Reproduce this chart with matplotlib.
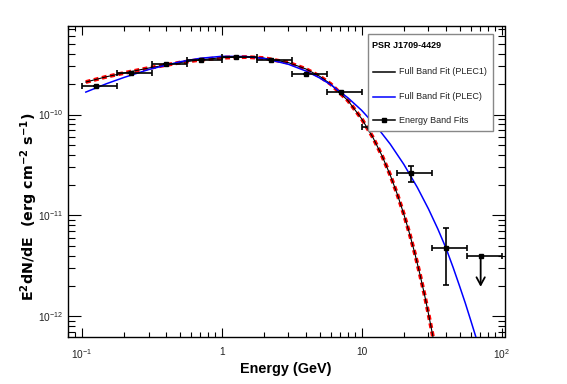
import numpy as np
import matplotlib
matplotlib.use('Agg')
import matplotlib.pyplot as plt
from matplotlib.lines import Line2D
from matplotlib.patches import Rectangle
from matplotlib.ticker import LogLocator, FixedLocator, FixedFormatter, NullFormatter

plt.rcParams['font.family'] = ['Liberation Sans', 'DejaVu Sans']
plt.rcParams['mathtext.fontset'] = 'custom'
plt.rcParams['mathtext.rm'] = 'Liberation Sans'
plt.rcParams['mathtext.bf'] = 'DejaVu Sans:bold'
plt.rcParams['mathtext.it'] = 'Liberation Sans:italic'
plt.rcParams['lines.scale_dashes'] = False

# ---------------- data ----------------
# Energy band fits
band_E = [0.126, 0.224, 0.398, 0.708, 1.26, 2.24, 3.98, 7.08, 12.6, 22.4, 39.8]
band_lo = [0.100, 0.178, 0.316, 0.562, 1.00, 1.78, 3.16, 5.62, 10.0, 17.8, 31.6]
band_hi = [0.178, 0.316, 0.562, 1.00, 1.78, 3.16, 5.62, 10.0, 17.8, 31.6, 56.2]
band_flux = [1.93e-10, 2.60e-10, 3.17e-10, 3.50e-10, 3.69e-10, 3.47e-10,
             2.50e-10, 1.68e-10, 7.46e-11, 2.61e-11, 4.72e-12]
band_flux_lo = [1.93e-10, 2.60e-10, 3.17e-10, 3.50e-10, 3.69e-10, 3.47e-10,
                2.50e-10, 1.68e-10, 7.46e-11, 2.15e-11, 2.04e-12]
band_flux_hi = [1.93e-10, 2.60e-10, 3.17e-10, 3.50e-10, 3.69e-10, 3.47e-10,
                2.50e-10, 1.68e-10, 7.46e-11, 3.08e-11, 7.43e-12]

# Upper limit
ul_E = [70.8]
ul_lo = [56.2]
ul_hi = [100.0]
ul_flux = [3.98e-12]
ul_tip = [1.96e-12]

# Full band fit, PLEC1 (black, with red dashed overlay)
plec1_E = [0.107, 0.15, 0.2, 0.3, 0.5, 0.7, 1.0, 1.5, 2.0, 3.0, 4.0, 5.0, 6.0, 8.0,
           10.0, 12.0, 14.0, 16.0, 18.0, 20.0, 22.0, 24.0, 26.0, 28.0, 30.0, 32.0, 34.0]
plec1_flux = [2.10e-10, 2.37e-10, 2.58e-10, 2.89e-10, 3.27e-10, 3.49e-10, 3.66e-10,
              3.72e-10, 3.63e-10, 3.27e-10, 2.83e-10, 2.40e-10, 2.01e-10, 1.37e-10,
              9.08e-11, 5.97e-11, 3.88e-11, 2.51e-11, 1.61e-11, 1.03e-11, 6.58e-12,
              4.18e-12, 2.65e-12, 1.68e-12, 1.06e-12, 6.71e-13, 4.23e-13]

# Full band fit, PLEC (blue)
plec_E = [0.107, 0.15, 0.2, 0.3, 0.5, 0.7, 1.0, 1.5, 2.0, 3.0, 4.0, 5.0, 6.0, 8.0,
          10.0, 13.0, 16.0, 20.0, 25.0, 30.0, 35.0, 40.0, 45.0, 50.0, 55.0, 60.0, 66.0, 70.0]
plec_flux = [1.67e-10, 2.02e-10, 2.33e-10, 2.79e-10, 3.33e-10, 3.61e-10, 3.78e-10,
             3.76e-10, 3.60e-10, 3.15e-10, 2.70e-10, 2.31e-10, 1.98e-10, 1.46e-10,
             1.10e-10, 7.37e-11, 5.09e-11, 3.21e-11, 1.89e-11, 1.16e-11, 7.34e-12,
             4.75e-12, 3.05e-12, 2.00e-12, 1.35e-12, 9.2e-13, 6.0e-13, 4.6e-13]

x_ticks = [0.1, 1, 10, 100]
x_ticklabels = [r'$10^{-1}$', '1', '10', r'$10^{2}$']
y_ticks = [1e-12, 1e-11, 1e-10]
y_ticklabels = [r'$10^{-12}$', r'$10^{-11}$', r'$10^{-10}$']

legend_title = 'PSR J1709-4429'
legend_labels = ['Full Band Fit (PLEC1)', 'Full Band Fit (PLEC)', 'Energy Band Fits']

# ---------------- figure ----------------
W, H = 567, 384
fig = plt.figure(figsize=(W / 100, H / 100), dpi=100)
ax = fig.add_axes([68 / W, 1 - 337 / H, (504.5 - 68) / W, (337 - 26) / H])
ax.set_xscale('log')
ax.set_yscale('log')
ax.set_xlim(0.0798, 104.8)
ax.set_ylim(6.23e-13, 7.55e-10)

# curves
ax.plot(plec1_E, plec1_flux, color='#ff0000', lw=2.8, dashes=(3.5, 2.5), zorder=3)
ax.plot(plec1_E, plec1_flux, color='black', lw=0.8, zorder=4)
ax.plot(plec_E, plec_flux, color='#0000ff', lw=1.1, zorder=5)

# energy band points
E = np.array(band_E)
xerr = [E - np.array(band_lo), np.array(band_hi) - E]
F = np.array(band_flux)
yerr = [F - np.array(band_flux_lo), np.array(band_flux_hi) - F]
ax.errorbar(E, F, xerr=xerr, yerr=yerr, fmt='s', ms=2.6, color='black',
            ecolor='black', elinewidth=1.2, capsize=2.0, capthick=1.2, zorder=6)

# upper limit
UE = np.array(ul_E)
ax.errorbar(UE, ul_flux, xerr=[UE - np.array(ul_lo), np.array(ul_hi) - UE],
            fmt='s', ms=2.6, color='black', elinewidth=1.2, capsize=2.0,
            capthick=1.2, zorder=6)
for e, f0, f1 in zip(ul_E, ul_flux, ul_tip):
    ax.annotate('', xy=(e, f1), xytext=(e, f0),
                arrowprops=dict(arrowstyle='->,head_length=0.55,head_width=0.3',
                                color='black', lw=1.3, shrinkA=0, shrinkB=0),
                zorder=6)

# ticks (ROOT style)
ax.xaxis.set_major_locator(FixedLocator(x_ticks))
ax.xaxis.set_major_formatter(FixedFormatter(x_ticklabels))
ax.yaxis.set_major_locator(FixedLocator(y_ticks))
ax.yaxis.set_major_formatter(FixedFormatter(y_ticklabels))
ax.xaxis.set_minor_locator(LogLocator(base=10, subs=np.arange(2, 10)))
ax.yaxis.set_minor_locator(LogLocator(base=10, subs=np.arange(2, 10)))
ax.xaxis.set_minor_formatter(NullFormatter())
ax.yaxis.set_minor_formatter(NullFormatter())
ax.tick_params(which='both', direction='in', top=True, right=True,
               colors='black', width=0.8, labelsize=7.3, labelcolor='#222222')
ax.tick_params(axis='x', which='major', length=6.7, pad=7)
ax.tick_params(axis='x', which='minor', length=3.4)
ax.tick_params(axis='y', which='major', length=9.4, pad=3.5)
ax.tick_params(axis='y', which='minor', length=4.7)
for s in ax.spines.values():
    s.set_linewidth(1.0)
    s.set_color('black')

# axis titles
fig.text(286 / W, 1 - 369 / H, 'Energy (GeV)', ha='center', va='center',
         fontsize=10.4, fontweight='bold')
fig.text(29 / W, 1 - 207 / H,
         r'E$^{\mathbf{2}}$dN/dE  (erg cm$^{\mathbf{-2}}$ s$^{\mathbf{-1}}$)',
         ha='center', va='center', rotation=90, fontsize=10.3, fontweight='bold',
         family=['DejaVu Sans'])

# legend (drawn in figure pixels)
def fx(px):
    return px / W

def fy(py):
    return 1 - py / H

fig.add_artist(Rectangle((fx(368), fy(131)), fx(493) - fx(368), fy(34) - fy(131),
                         transform=fig.transFigure, facecolor='white',
                         edgecolor='#888888', lw=1.0, zorder=10))
fig.text(fx(371.5), fy(45.7), legend_title, ha='left', va='center', fontsize=6.5,
         fontweight='bold', zorder=11)
entry_y = [71.7, 96.7, 120.3]
entry_colors = ['black', '#0000ff', 'black']
for i, (lab, c, yy) in enumerate(zip(legend_labels, entry_colors, entry_y)):
    ln = Line2D([fx(373), fx(395)], [fy(yy), fy(yy)], transform=fig.transFigure,
                color=c, lw=1.1, zorder=11)
    fig.add_artist(ln)
    if i == 2:
        mk = Line2D([fx(384)], [fy(yy)], transform=fig.transFigure, marker='s',
                    ms=2.8, color='black', lw=0, zorder=12)
        fig.add_artist(mk)
    fig.text(fx(399), fy(yy), lab, ha='left', va='center', fontsize=6.5,
             color='#222222', zorder=11)

fig.savefig('out.png', dpi=100)
